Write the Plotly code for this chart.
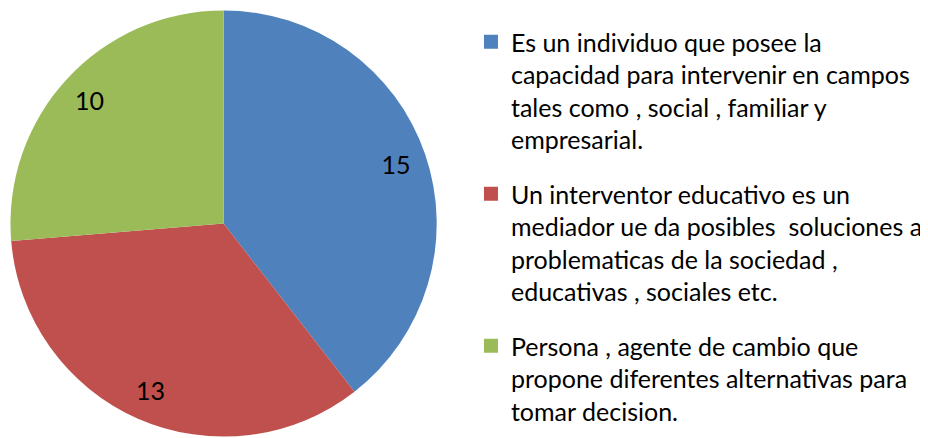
import plotly.graph_objects as go

labels = [
    "Es un individuo que posee la<br>capacidad para intervenir en campos<br>tales como , social , familiar y<br>empresarial.",
    "Un interventor educativo es un<br>mediador ue da posibles  soluciones a<br>problematicas de la sociedad ,<br>educativas , sociales etc.",
    "Persona , agente de cambio que<br>propone diferentes alternativas para<br>tomar decision.",
]
values = [15, 13, 10]
colors = ["#4F81BD", "#C0504D", "#9BBB59"]

# figure sits 8px inside the window (default body margin)
W, H = 920, 430
cx, R = 217, 214.5
dom = dict(x=[(cx - R) / W, (cx + R) / W], y=[0, 1 - 1 / H])

fig = go.Figure()
fig.add_trace(go.Pie(
    labels=labels, values=values, sort=False, direction="clockwise", rotation=0,
    marker=dict(colors=colors, line=dict(width=0)),
    textinfo="none", domain=dom, showlegend=False, hoverinfo="label+value",
))
# transparent ring carrying the value labels near the rim
fig.add_trace(go.Pie(
    labels=labels, values=values, sort=False, direction="clockwise", rotation=0,
    hole=0.71,
    marker=dict(colors=["rgba(0,0,0,0)"] * 3, line=dict(width=0)),
    textinfo="value", textposition="inside", insidetextorientation="horizontal",
    textfont=dict(family="Lato", size=25, color="black"),
    domain=dom, showlegend=False, hoverinfo="skip",
))
# legend entries
for lab, col in zip(labels, colors):
    fig.add_trace(go.Scatter(
        x=[None], y=[None], mode="markers", name=lab, legendgroup=lab,
        marker=dict(symbol="square", size=14, color=col),
        showlegend=True, hoverinfo="skip",
    ))

fig.update_layout(
    width=W, height=H,
    margin=dict(l=0, r=0, t=0, b=0),
    paper_bgcolor="white", plot_bgcolor="rgba(0,0,0,0)",
    xaxis=dict(visible=False), yaxis=dict(visible=False),
    showlegend=True,
    legend=dict(
        x=466 / W, xanchor="left",
        y=1 - 11 / H, yanchor="top",
        font=dict(family="Lato", size=25, color="black"),
        bgcolor="rgba(0,0,0,0)",
        valign="top", traceorder="grouped", tracegroupgap=19,
    ),
)
fig.write_html("out.html")
